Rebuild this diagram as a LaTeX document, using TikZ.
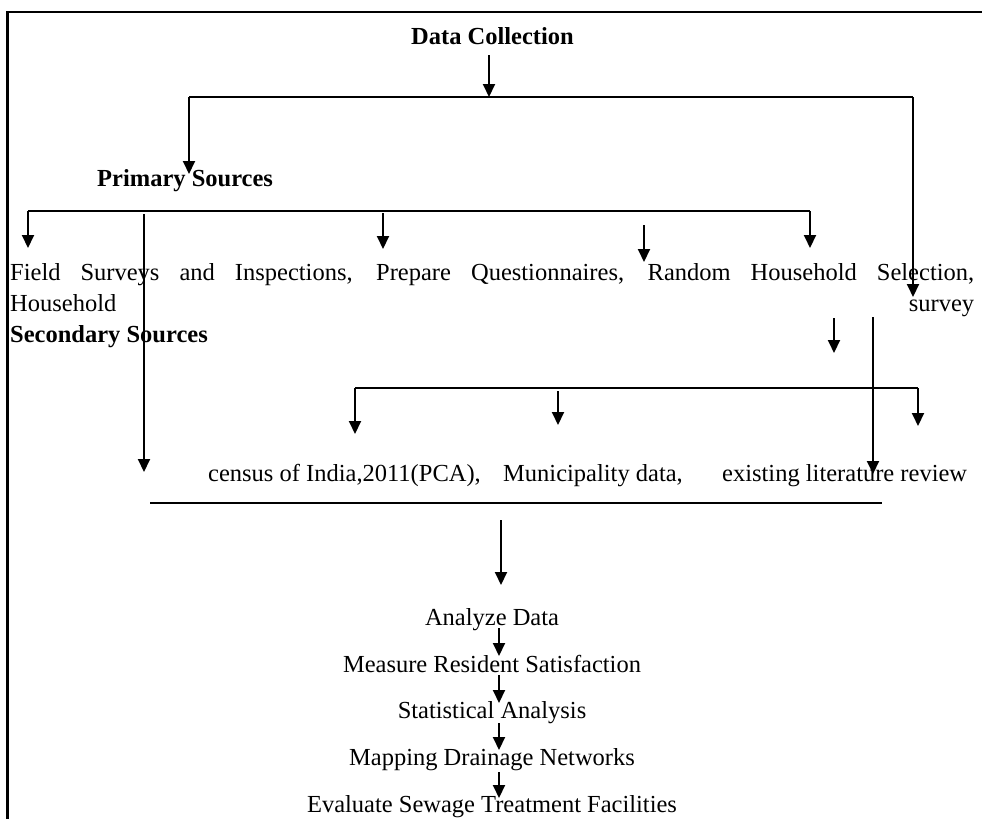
\documentclass[tikz,border=0pt]{standalone}
\usepackage{fontspec}
\setmainfont{Liberation Serif}
\usetikzlibrary{arrows.meta}
\begin{document}
\begin{tikzpicture}[x=1pt,y=-1pt,
  arr/.style={line width=2pt,-{Triangle[width=12pt,length=13pt]}},
  conn/.style={line width=1.4pt},
  frameline/.style={line width=2.2pt},
  txt/.style={inner sep=0pt,font=\fontsize{24.5}{29}\selectfont},
  btxt/.style={inner sep=0pt,font=\fontsize{24.5}{29}\selectfont\bfseries}]
\useasboundingbox[fill=white] (0,0) rectangle (982,819);
% frame
\coordinate (fr1) at (982,12);
\coordinate (fr2) at (7.5,12);
\coordinate (fr3) at (7.5,819);
\draw[frameline] (fr1) -- (fr2) -- (fr3);

% texts
\node[btxt,anchor=base west] (dc) at (411,44) {Data Collection};
\node[btxt,anchor=base west] (ps) at (97,186) {Primary Sources};
\node[txt,anchor=base west] (prim1) at (10,280) {\makebox[964pt][s]{Field Surveys and Inspections, Prepare Questionnaires, Random Household Selection,}};
\node[txt,anchor=base west] (prim2) at (10,311) {\makebox[964pt][s]{Household survey}};
\node[btxt,anchor=base west] (ss) at (10,342) {Secondary Sources};
\node[txt,anchor=base west] (census) at (208,481) {census of India,2011(PCA),};
\node[txt,anchor=base west] (muni) at (503,481) {Municipality data,};
\node[txt,anchor=base west] (lit) at (722,481) {existing literature review};
\node[txt,anchor=base] (an) at (492,625) {Analyze Data};
\node[txt,anchor=base] (mr) at (492,672) {Measure Resident Satisfaction};
\node[txt,anchor=base] (sa) at (492,718) {Statistical Analysis};
\node[txt,anchor=base] (md) at (492,765) {Mapping Drainage Networks};
\node[txt,anchor=base] (ev) at (492,812) {Evaluate Sewage Treatment Facilities};

% coordinates
\coordinate (a0s) at (489,55);
\coordinate (a0e) at (489,97);
\coordinate (h1l) at (189,97);
\coordinate (h1r) at (913,97);
\coordinate (a1e) at (189,174);
\coordinate (a2e) at (913,297);
\coordinate (h2l) at (28,211);
\coordinate (h2r) at (810,211);
\coordinate (a3e) at (28,248);
\coordinate (a4e) at (810,248);
\coordinate (a5s) at (383,213);
\coordinate (a5e) at (383,249);
\coordinate (a6s) at (644,225);
\coordinate (a6e) at (644,262);
\coordinate (l7s) at (144,214);
\coordinate (l7e) at (144,472);
\coordinate (a8s) at (834,318);
\coordinate (a8e) at (834,353);
\coordinate (l9s) at (873,317);
\coordinate (l9e) at (873,474);
\coordinate (h3l) at (355,388);
\coordinate (h3r) at (918,388);
\coordinate (a10e) at (355,434);
\coordinate (a11e) at (918,426);
\coordinate (a12s) at (558,391);
\coordinate (a12e) at (558,425);
\coordinate (h4l) at (150,503);
\coordinate (h4r) at (882,503);
\coordinate (a13s) at (501,520);
\coordinate (a13e) at (501,585);
\coordinate (b1s) at (499,628);
\coordinate (b1e) at (499,656);
\coordinate (b2s) at (499,675);
\coordinate (b2e) at (499,703);
\coordinate (b3s) at (499,723);
\coordinate (b3e) at (499,750);
\coordinate (b4s) at (499,772);
\coordinate (b4e) at (499,798);

% connectors
\draw[arr] (a0s) -- (a0e);
\draw[conn] (h1l) -- (h1r);
\draw[arr] (h1l) -- (a1e);
\draw[arr] (h1r) -- (a2e);
\draw[conn] (h2l) -- (h2r);
\draw[arr] (h2l) -- (a3e);
\draw[arr] (h2r) -- (a4e);
\draw[arr] (a5s) -- (a5e);
\draw[arr] (a6s) -- (a6e);
\draw[arr] (l7s) -- (l7e);
\draw[arr] (a8s) -- (a8e);
\draw[arr] (l9s) -- (l9e);
\draw[conn] (h3l) -- (h3r);
\draw[arr] (h3l) -- (a10e);
\draw[arr] (h3r) -- (a11e);
\draw[arr] (a12s) -- (a12e);
\draw[conn] (h4l) -- (h4r);
\draw[arr] (a13s) -- (a13e);
\draw[arr] (b1s) -- (b1e);
\draw[arr] (b2s) -- (b2e);
\draw[arr] (b3s) -- (b3e);
\draw[arr] (b4s) -- (b4e);
\end{tikzpicture}
\end{document}
